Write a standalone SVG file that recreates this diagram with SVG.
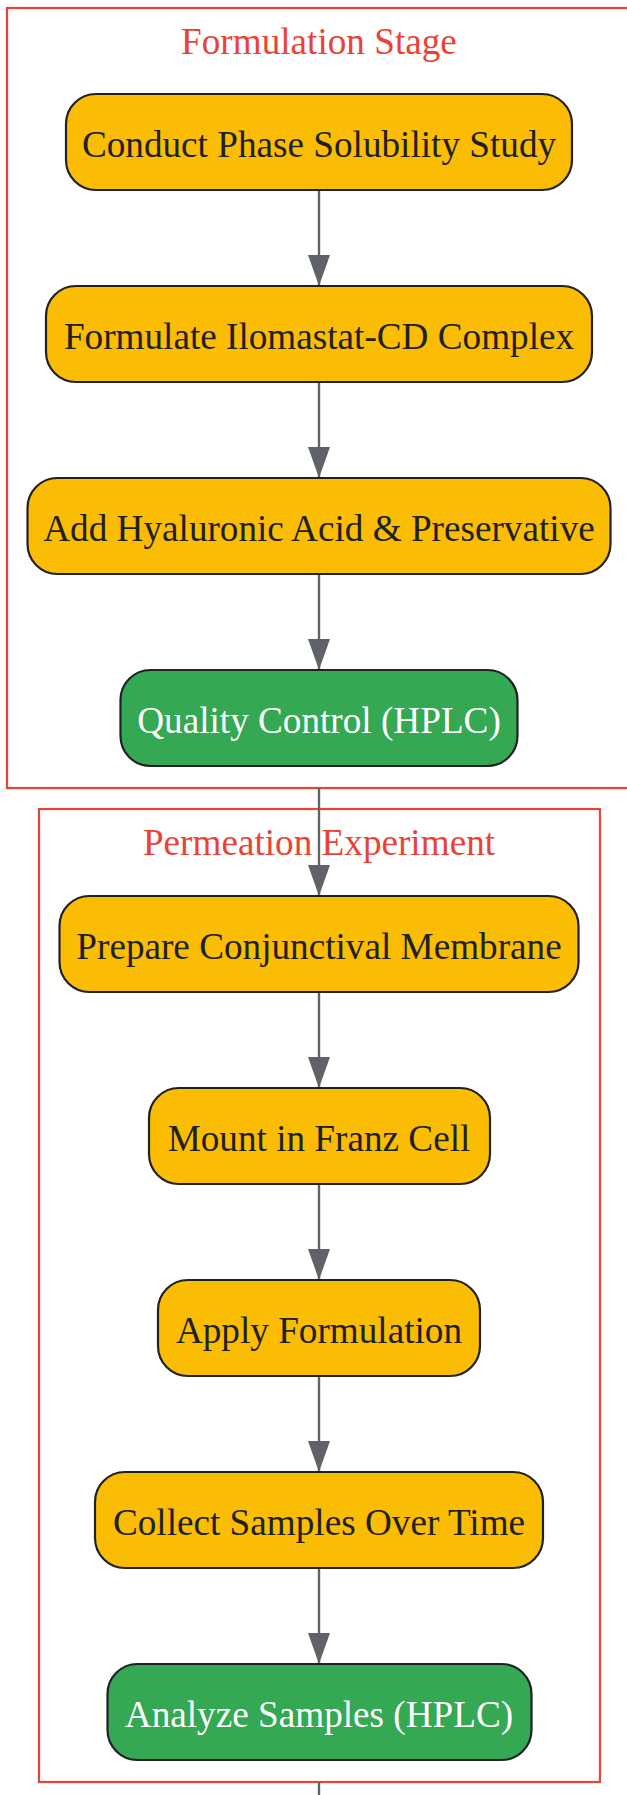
<svg xmlns="http://www.w3.org/2000/svg" width="627" height="1795" viewBox="0 0 627 1795">
<style>
  .cluster { fill: none; stroke: #ea4335; stroke-width: 2.2; }
  .ctitle { font-family: "Liberation Serif", "Times New Roman", serif; font-size: 37.2px; fill: #ea4335; text-anchor: middle; }
  .node rect { stroke: #202124; stroke-width: 2.2; }
  .y rect { fill: #fbbc04; }
  .g rect { fill: #34a853; }
  .node text { font-family: "Liberation Serif", "Times New Roman", serif; font-size: 37.2px; text-anchor: middle; }
  .y text { fill: #202124; }
  .g text { fill: #ffffff; }
  .edge { stroke: #5f6368; stroke-width: 2.4; fill: none; }
</style>
<defs>
  <marker id="arr" markerWidth="31" markerHeight="22" refX="31" refY="11" orient="auto" markerUnits="userSpaceOnUse" viewBox="0 0 31 22">
    <path d="M0,0 L31,11 L0,22 Z" fill="#5f6368"/>
  </marker>
</defs>
<rect width="627" height="1795" fill="#ffffff"/>
<g id="cluster-formulation">
  <rect class="cluster" x="7" y="8" width="625" height="780"/>
  <text class="ctitle" x="319" y="54">Formulation Stage</text>
</g>
<g id="cluster-permeation">
  <rect class="cluster" x="39" y="809" width="561" height="973"/>
  <text class="ctitle" x="319" y="855">Permeation Experiment</text>
</g>
<g id="edges">
  <line class="edge" x1="319" y1="190" x2="319" y2="286" marker-end="url(#arr)"/>
  <line class="edge" x1="319" y1="382" x2="319" y2="478" marker-end="url(#arr)"/>
  <line class="edge" x1="319" y1="574" x2="319" y2="670" marker-end="url(#arr)"/>
  <line class="edge" x1="319" y1="788" x2="319" y2="896" marker-end="url(#arr)"/>
  <line class="edge" x1="319" y1="992" x2="319" y2="1088" marker-end="url(#arr)"/>
  <line class="edge" x1="319" y1="1184" x2="319" y2="1280" marker-end="url(#arr)"/>
  <line class="edge" x1="319" y1="1376" x2="319" y2="1472" marker-end="url(#arr)"/>
  <line class="edge" x1="319" y1="1568" x2="319" y2="1664" marker-end="url(#arr)"/>
  <line class="edge" x1="319" y1="1782" x2="319" y2="1800"/>
</g>
<g id="n1" class="node y">
  <rect x="66" y="94" width="506" height="96" rx="30"/>
  <text x="319" y="156.5">Conduct Phase Solubility Study</text>
</g>
<g id="n2" class="node y">
  <rect x="46" y="286" width="546" height="96" rx="30"/>
  <text x="319" y="348.5">Formulate Ilomastat-CD Complex</text>
</g>
<g id="n3" class="node y">
  <rect x="27.5" y="478" width="583" height="96" rx="30"/>
  <text x="319" y="540.5">Add Hyaluronic Acid &amp; Preservative</text>
</g>
<g id="n4" class="node g">
  <rect x="120.5" y="670" width="397" height="96" rx="30"/>
  <text x="319" y="732.5">Quality Control (HPLC)</text>
</g>
<g id="n5" class="node y">
  <rect x="59.5" y="896" width="519" height="96" rx="30"/>
  <text x="319" y="958.5">Prepare Conjunctival Membrane</text>
</g>
<g id="n6" class="node y">
  <rect x="149" y="1088" width="341" height="96" rx="30"/>
  <text x="319" y="1150.5">Mount in Franz Cell</text>
</g>
<g id="n7" class="node y">
  <rect x="158" y="1280" width="322" height="96" rx="30"/>
  <text x="319" y="1342.5">Apply Formulation</text>
</g>
<g id="n8" class="node y">
  <rect x="95" y="1472" width="448" height="96" rx="30"/>
  <text x="319" y="1534.5">Collect Samples Over Time</text>
</g>
<g id="n9" class="node g">
  <rect x="107.5" y="1664" width="424" height="96" rx="30"/>
  <text x="319" y="1726.5">Analyze Samples (HPLC)</text>
</g>
</svg>
